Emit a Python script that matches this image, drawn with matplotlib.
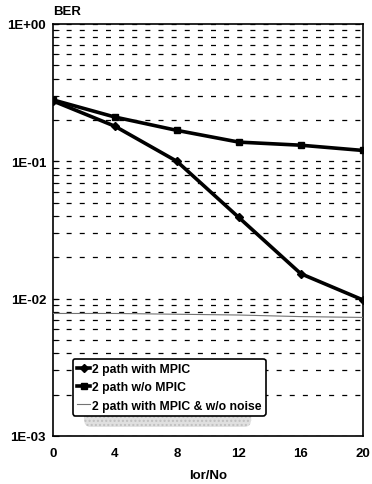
import numpy as np
import matplotlib
matplotlib.use('Agg')
import matplotlib.pyplot as plt
from matplotlib.patches import FancyBboxPatch

# Δεδομένα (εκτίμηση από την εικόνα)
ior_no = [0, 4, 8, 12, 16, 20]
ber_mpic = [0.275, 0.18, 0.10, 0.039, 0.0152, 0.0098]
ber_no_mpic = [0.28, 0.21, 0.168, 0.138, 0.131, 0.12]
ber_mpic_no_noise = [0.0078, 0.0078, 0.0077, 0.0076, 0.0074, 0.0073]

labels = ['2 path with MPIC', '2 path w/o MPIC', '2 path with MPIC & w/o noise']
x_ticks = [0, 4, 8, 12, 16, 20]
y_ticks = [1e-3, 1e-2, 1e-1, 1e0]
y_tick_labels = ['1E-03', '1E-02', '1E-01', '1E+00']

plt.rcParams['font.family'] = ['Liberation Sans', 'DejaVu Sans']
plt.rcParams['font.weight'] = 'bold'
fs = 9.5

fig = plt.figure(figsize=(3.72, 4.85), dpi=100)
ax = fig.add_axes([0.1425, 0.099, 0.8325, 0.8495])

ax.plot(ior_no, ber_mpic, color='black', lw=2.6, marker='D', ms=4, label=labels[0], zorder=4)
ax.plot(ior_no, ber_no_mpic, color='black', lw=2.6, marker='s', ms=4, label=labels[1], zorder=4)
ax.plot(ior_no, ber_mpic_no_noise, color='0.45', lw=0.8, label=labels[2], zorder=3)

ax.set_yscale('log')
ax.set_ylim(1e-3, 1)
ax.set_xlim(0, 20)

# οριζόντιες διακεκομμένες γραμμές πλέγματος
ax.yaxis.grid(True, which='both', color='black', linestyle=(0, (4, 6.5)), lw=0.9)
ax.xaxis.grid(False)
ax.set_axisbelow(True)

ax.set_yticks(y_ticks)
ax.set_yticklabels(y_tick_labels)
ax.set_xticks(x_ticks)
ax.tick_params(axis='y', which='both', direction='in', length=4, labelsize=fs, pad=5)
ax.tick_params(axis='x', which='both', length=0, labelsize=fs, pad=8)
for s in ax.spines.values():
    s.set_linewidth(1.2)

ax.set_xlabel('Ior/No', fontsize=fs, fontweight='bold', labelpad=7)
fig.text(0.143, 0.962, 'BER', fontsize=fs, fontweight='bold', ha='left', va='bottom')

# σκιά του legend (κάτω από το πλαίσιο)
shadow = FancyBboxPatch((0.10, 0.022), 0.54, 0.10, boxstyle='round,pad=0,rounding_size=0.02',
                        transform=ax.transAxes, facecolor='0.88', edgecolor='0.75',
                        hatch='....', lw=0, zorder=5)
ax.add_patch(shadow)

leg = ax.legend(loc='lower left', bbox_to_anchor=(0.063, 0.049), fontsize=8.8,
                frameon=True, fancybox=True, handlelength=1.1, handletextpad=0.15,
                borderpad=0.35, labelspacing=0.5, borderaxespad=0)
leg.get_frame().set_edgecolor('black')
leg.get_frame().set_linewidth(1.2)
leg.get_frame().set_facecolor('white')
leg.get_frame().set_alpha(1)
leg.set_zorder(6)

plt.savefig('out.png', dpi=100)
